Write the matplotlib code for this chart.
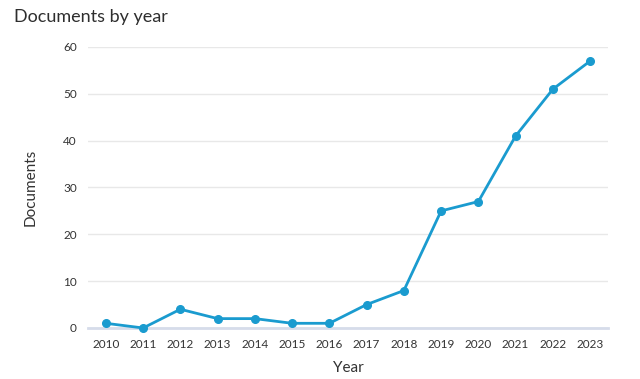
import matplotlib
matplotlib.use("Agg")
import matplotlib.pyplot as plt

years = [2010, 2011, 2012, 2013, 2014, 2015, 2016, 2017, 2018, 2019, 2020, 2021, 2022, 2023]
documents = [1, 0, 4, 2, 2, 1, 1, 5, 8, 25, 27, 41, 51, 57]

plt.rcParams['font.family'] = ['Lato', 'DejaVu Sans']

fig = plt.figure(figsize=(6.4, 3.79), dpi=100)
ax = fig.add_axes([0.1375, 0.1346, 0.8125, 0.7414])

ax.plot(years, documents, color="#1a9bcf", lw=2, marker="o", ms=5.5, clip_on=False, zorder=3)

ax.set_xlim(2009.52, 2023.48)
ax.set_ylim(0, 60)
ax.set_xticks(years)
ax.set_yticks(range(0, 61, 10))
ax.tick_params(length=0, labelsize=8.5, colors="#333333")
ax.tick_params(axis="x", pad=8)
ax.tick_params(axis="y", pad=8)

ax.grid(axis="y", color="#e8e8e8", lw=1)
ax.set_axisbelow(True)
for s in ["top", "right", "left"]:
    ax.spines[s].set_visible(False)
ax.spines["bottom"].set_color("#d6dcea")
ax.spines["bottom"].set_linewidth(2)

ax.set_xlabel("Year", fontsize=11, color="#333333", labelpad=8)
ax.set_ylabel("Documents", fontsize=11, color="#333333")
ax.yaxis.set_label_coords(-0.097, 0.5)
fig.text(0.022, 0.955, "Documents by year", fontsize=13, color="#2e2e2e", va="center")

fig.savefig("out.png", dpi=100)
